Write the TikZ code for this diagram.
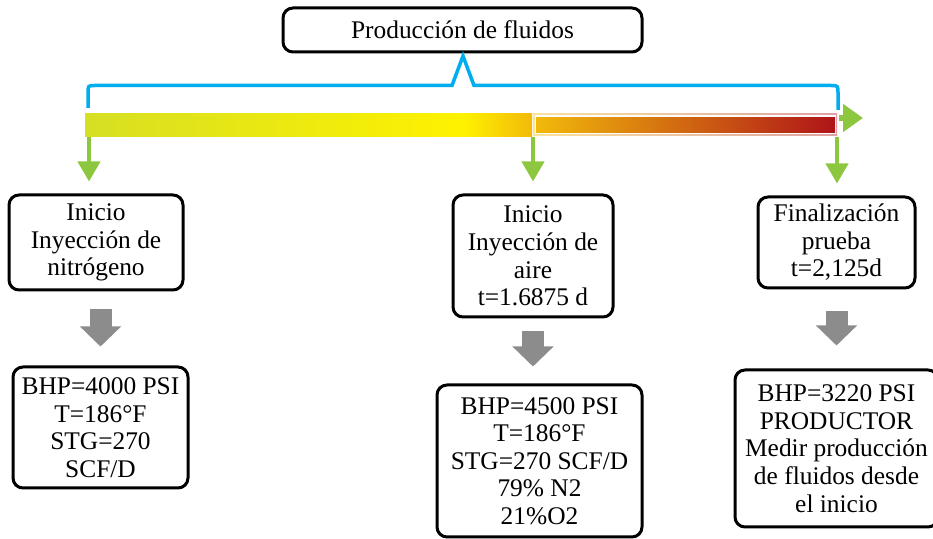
\documentclass[tikz,border=0pt]{standalone}
\usepackage{fontspec}
\setmainfont{Liberation Serif}
\usetikzlibrary{arrows.meta,calc}

\definecolor{bracketblue}{RGB}{0,174,239}
\definecolor{arrowgreen}{RGB}{141,198,63}
\definecolor{arrowgray}{RGB}{140,140,140}
\definecolor{barlime}{RGB}{214,223,35}
\definecolor{baryellow}{RGB}{255,242,0}
\definecolor{barorange}{RGB}{242,185,10}
\definecolor{barrust}{RGB}{210,110,25}
\definecolor{barred}{RGB}{175,20,25}

\tikzset{
  databox/.style={draw, line width=1.5pt, rounded corners=5pt, align=center, inner sep=2pt,
    font=\fontsize{12.7}{13.8}\selectfont},
  greenarrow/.style={arrowgreen, line width=2pt, -{Triangle[length=10pt,width=11pt]}},
  grayarrow/.style={arrowgray, line width=11pt, -{Triangle[length=10pt,width=20pt]}},
  bracket/.style={bracketblue, line width=1.75pt},
}

\begin{document}
\begin{tikzpicture}[x=0.5pt,y=-0.5pt]
	\useasboundingbox (0,0) rectangle (933,539);
	% title
	\node[databox, minimum width=179.5pt, minimum height=22pt] (title) at (462.5,30) {Producción de fluidos};
	% bracket
	\coordinate (peak) at (463,56);
	\draw[bracket] (88,108) -- (88,93) .. controls (88,85.5) .. (95.5,85.5) -- (452,85.5) -- (peak)
		-- (474,85.5) -- (830.5,85.5) .. controls (838,85.5) .. (838,93) -- (838,110);
	% time bar
	\shade[left color=barlime, right color=baryellow] (85,114) rectangle (463.5,137);
	\shade[left color=baryellow, right color=barorange] (463,114) rectangle (532,137);
	\shade[left color=barorange, right color=barred, opacity=.4] (533,114) rectangle (837,136);
	\fill[white] (534.5,115.5) rectangle (835.5,134.5);
	\shade[left color=barorange, middle color=barrust, right color=barred] (536,118) rectangle (835,133);
	\coordinate (tnitro) at (89,137);
	\coordinate (taire) at (533,137);
	\coordinate (tfin) at (837,137);
	\coordinate (barend) at (839,118);
	\coordinate (bartip) at (863,118);
	% stages
	\node[databox, minimum width=87pt, minimum height=47.5pt] (nitro) at (96,242.5) {Inicio\\Inyección de\\nitrógeno};
	\node[databox, minimum width=80pt, minimum height=61pt] (aire) at (533,256) {Inicio\\Inyección de\\aire\\t=1.6875 d};
	\node[databox, minimum width=78.5pt, minimum height=45.5pt] (fin) at (836.5,242.5) {Finalización\\prueba\\t=2,125d};
	% data
	\node[databox, minimum width=87.5pt, minimum height=60.5pt] (nitrodata) at (100.5,427.5) {BHP=4000 PSI\\T=186°F\\STG=270\\SCF/D};
	\node[databox, minimum width=102.5pt, minimum height=76pt] (airedata) at (539.5,461) {BHP=4500 PSI\\T=186°F\\STG=270 SCF/D\\79\% N2\\21\%O2};
	\node[databox, minimum width=101.5pt, minimum height=78.5pt] (findata) at (836.5,448.5) {BHP=3220 PSI\\PRODUCTOR\\Medir producción\\de fluidos desde\\el inicio};
	% arrows
	\draw[greenarrow, shorten >=6pt] (tnitro) -- (tnitro |- nitro.north);
	\draw[greenarrow, shorten >=6pt] (taire) -- (taire |- aire.north);
	\draw[greenarrow, shorten >=6pt] (tfin) -- (tfin |- fin.north);
	\draw[greenarrow, line width=3pt, -{Triangle[length=10pt,width=13.5pt]}] (barend) -- (bartip);
	\draw[grayarrow, shorten <=9pt, shorten >=9.5pt] (nitrodata.north |- nitro.south) -- (nitrodata.north);
	\draw[grayarrow, shorten <=6.5pt, shorten >=8.5pt] (aire.south) -- (aire.south |- airedata.north);
	\draw[grayarrow, shorten <=11pt, shorten >=11.5pt] (fin.south) -- (fin.south |- findata.north);
\end{tikzpicture}
\end{document}
